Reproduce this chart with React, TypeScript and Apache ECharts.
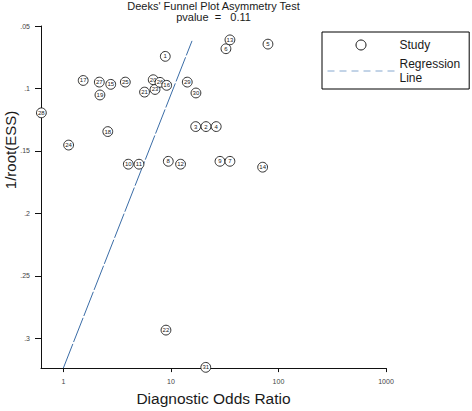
import React, { useEffect, useRef } from 'react';
import * as echarts from 'echarts';

const studyIds = [1, 2, 3, 4, 5, 6, 7, 8, 9, 10, 11, 12, 13, 14, 15, 16, 17, 18, 19, 20, 21, 22, 23, 24, 25, 26, 27, 28, 29, 30, 31];
const diagnosticOddsRatio = [8.87, 21.2, 17.0, 26.4, 79.9, 32.5, 35.4, 9.46, 28.6, 4.02, 5.05, 12.3, 35.4, 71.3, 2.76, 9.14, 1.53, 2.59, 2.19, 6.85, 5.69, 9.0, 7.12, 1.12, 3.77, 7.92, 2.16, 0.625, 14.2, 17.1, 21.1];
const invRootEss = [0.0743, 0.1305, 0.1305, 0.1305, 0.0645, 0.0682, 0.1583, 0.1583, 0.1583, 0.1606, 0.1606, 0.1606, 0.0611, 0.163, 0.0967, 0.0975, 0.0936, 0.1345, 0.1052, 0.093, 0.1029, 0.2934, 0.1008, 0.1453, 0.0949, 0.0951, 0.0949, 0.1195, 0.0949, 0.1036, 0.3232];
const regressionDor = [1, 15.72];
const regressionInvRootEss = [0.3238, 0.0619];
const xTickValues = [1, 10, 100, 1000];
const yTickValues = [0.05, 0.1, 0.15, 0.2, 0.25, 0.3];
const titleLine1 = "Deeks' Funnel Plot Asymmetry Test";
const titleLine2 = 'pvalue\u00a0\u00a0=\u00a0\u00a0\u00a00.11';
const xAxisTitle = 'Diagnostic Odds Ratio';
const yAxisTitle = '1/root(ESS)';
const studyName = 'Study';
const regressionName = 'Regression\nLine';

const FONT = '"Liberation Sans", Arial, sans-serif';

export default function App() {
  const ref = useRef<HTMLDivElement>(null);

  useEffect(() => {
    if (!ref.current) return;
    const chart = echarts.init(ref.current, null, { renderer: 'svg' });

    const order = studyIds.map((_, i) => i).sort((a, b) => diagnosticOddsRatio[a] - diagnosticOddsRatio[b]);
    const studyData = order.map((i) => [diagnosticOddsRatio[i], invRootEss[i], studyIds[i]]);
    const lineData = regressionDor.map((d, i) => [d, regressionInvRootEss[i]]);

    const option: any = {
      animation: false,
      backgroundColor: '#fff',
      textStyle: { fontFamily: FONT },
      grid: { left: 41, right: 86, top: 26, bottom: 39, containLabel: false },
      xAxis: {
        type: 'log',
        logBase: 10,
        min: 0.62,
        max: 1000,
        name: xAxisTitle,
        nameLocation: 'middle',
        nameGap: 21,
        nameTextStyle: { fontSize: 15.5, color: '#1a1a1a', fontFamily: FONT },
        axisLine: { show: true, lineStyle: { color: '#111', width: 1 } },
        axisTick: { show: true, length: 4, customValues: xTickValues, lineStyle: { color: '#111' } },
        axisLabel: {
          show: true,
          customValues: xTickValues,
          fontSize: 7,
          color: '#444',
          margin: 10,
          fontFamily: FONT,
          formatter: (v: number) => String(Math.round(v)),
        },
        splitLine: { show: false },
        minorTick: { show: false },
      },
      yAxis: {
        type: 'value',
        inverse: true,
        min: 0.05,
        max: 0.3238,
        interval: 0.05,
        axisLine: { show: true, onZero: false, lineStyle: { color: '#111', width: 1 } },
        axisTick: { show: true, length: 6, customValues: yTickValues, lineStyle: { color: '#111' } },
        axisLabel: {
          show: true,
          customValues: yTickValues,
          fontSize: 7,
          color: '#444',
          margin: 11,
          fontFamily: FONT,
          formatter: (v: number) => String(+v.toFixed(2)).replace(/^0/, ''),
        },
        splitLine: { show: false },
      },
      legend: {
        orient: 'vertical',
        left: 322,
        top: 32,
        backgroundColor: '#fff',
        borderColor: '#000',
        borderWidth: 1,
        borderRadius: 0,
        padding: [6, 9, 4, 5],
        itemWidth: 67,
        itemHeight: 10,
        itemGap: 5,
        selectedMode: false,
        textStyle: { fontSize: 12, lineHeight: 14, color: '#1a1a1a', fontFamily: FONT },
        data: [
          { name: studyName, icon: 'circle', itemStyle: { color: '#fff', borderColor: '#111', borderWidth: 1 } },
          {
            name: regressionName,
            itemStyle: { opacity: 0, color: 'transparent', borderWidth: 0 },
            lineStyle: { color: '#86a8cf', type: [7, 5], width: 1 },
          },
        ],
      },
      graphic: [
        {
          type: 'text',
          x: 213.5,
          y: 6,
          style: { text: titleLine1, fontSize: 11, fill: '#1a1a1a', fontFamily: FONT, align: 'center', verticalAlign: 'middle' },
        },
        {
          type: 'text',
          x: 213.5,
          y: 16.5,
          style: { text: titleLine2, fontSize: 11, fill: '#1a1a1a', fontFamily: FONT, align: 'center', verticalAlign: 'middle' },
        },
        {
          type: 'text',
          x: 10.5,
          y: 150,
          rotation: Math.PI / 2,
          style: { text: yAxisTitle, fontSize: 15, fill: '#1a1a1a', fontFamily: FONT, align: 'center', verticalAlign: 'middle' },
        },
      ],
      series: [
        {
          name: regressionName,
          type: 'line',
          data: lineData,
          symbol: 'none',
          showSymbol: false,
          silent: true,
          z: 1,
          lineStyle: { color: '#3a6ca6', width: 1, type: [26, 2] },
        },
        {
          name: studyName,
          type: 'custom',
          z: 3,
          encode: { x: 0, y: 1 },
          data: studyData,
          renderItem: (_params: any, api: any) => {
            const pt = api.coord([api.value(0), api.value(1)]);
            return {
              type: 'group',
              children: [
                {
                  type: 'circle',
                  shape: { cx: pt[0], cy: pt[1], r: 4.9 },
                  style: { fill: '#fff', stroke: '#1a1a1a', lineWidth: 0.9 },
                },
                {
                  type: 'text',
                  style: {
                    text: String(api.value(2)),
                    x: pt[0],
                    y: pt[1],
                    align: 'center',
                    verticalAlign: 'middle',
                    fontSize: 6,
                    fill: '#222',
                    fontFamily: FONT,
                  },
                },
              ],
            };
          },
        },
      ],
    };

    chart.setOption(option);
    return () => chart.dispose();
  }, []);

  return <div ref={ref} style={{ position: 'fixed', left: 0, top: 0, width: 472, height: 411, background: '#fff' }} />;
}
